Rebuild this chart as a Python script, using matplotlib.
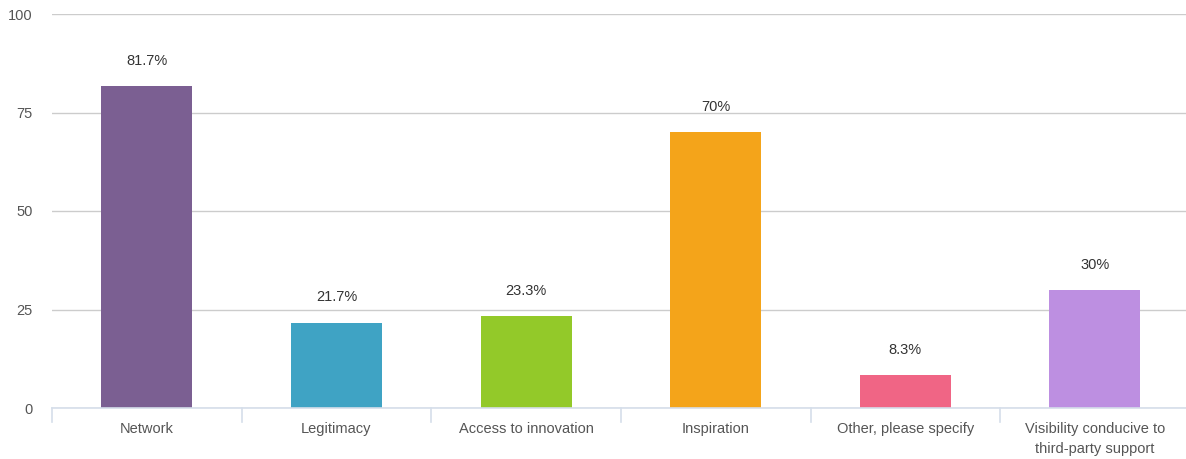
import matplotlib
matplotlib.use("Agg")
from matplotlib import pyplot as plt

categories = ["Network", "Legitimacy", "Access to innovation", "Inspiration",
              "Other, please specify", "Visibility conducive to\nthird-party support"]
values = [81.7, 21.7, 23.3, 70, 8.3, 30]
value_labels = ["81.7%", "21.7%", "23.3%", "70%", "8.3%", "30%"]
colors = ["#7B5F92", "#3FA3C4", "#93C929", "#F4A41A", "#F06585", "#BD8FE1"]
y_ticks = [0, 25, 50, 75, 100]

plt.rcParams["font.family"] = ["Liberation Sans", "DejaVu Sans"]

fig = plt.figure(figsize=(11.86, 4.59), dpi=100)
ax = fig.add_axes([52 / 1186, 51 / 459, 1 - 52 / 1186, 394 / 459])

x = list(range(len(categories)))
ax.bar(x, values, width=0.48, color=colors, zorder=3)
for xi, v, lab in zip(x, values, value_labels):
    ax.annotate(lab, (xi, v), xytext=(0, 13), textcoords="offset points",
                ha="center", va="bottom", fontsize=10.5, color="#333333")

ax.set_xlim(-0.5, 5.48)
ax.set_ylim(0, 100)
ax.set_yticks(y_ticks)
ax.set_xticks(x)
ax.set_xticklabels(categories, fontsize=10.5, color="#555555", linespacing=1.55)
ax.tick_params(axis="x", length=0, pad=10)
ax.tick_params(axis="y", length=0, pad=14, labelsize=10.5, labelcolor="#555555")
ax.grid(axis="y", color="#CCCCCC", linewidth=1, zorder=0)

for s in ["top", "right", "left"]:
    ax.spines[s].set_visible(False)
ax.spines["bottom"].set_color("#D5DEEA")
ax.spines["bottom"].set_linewidth(1.2)
ax.spines["bottom"].set_zorder(4)

# petits séparateurs entre catégories sous l'axe
for b in [i - 0.5 for i in range(len(categories) + 1)]:
    ax.plot([b, b], [0, -3.5], color="#D5DEEA", linewidth=1.2, clip_on=False)

fig.savefig("out.png", dpi=100)
